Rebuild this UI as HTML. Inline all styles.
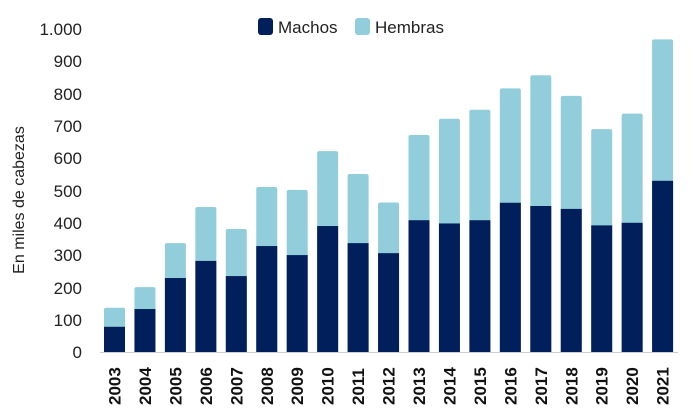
<!DOCTYPE html>
<html><head><meta charset="utf-8"><style>
body{margin:0;background:#fff;}
svg{display:block;font-family:"Liberation Sans",sans-serif;}
</style></head><body>
<svg width="700" height="411" viewBox="0 0 700 411">
<g font-size="17" fill="#222" text-anchor="end">
<text x="82" y="35">1.000</text><text x="82" y="67">900</text><text x="82" y="100">800</text><text x="82" y="132">700</text><text x="82" y="164">600</text><text x="82" y="197">500</text><text x="82" y="229">400</text><text x="82" y="261">300</text><text x="82" y="294">200</text><text x="82" y="326">100</text><text x="82" y="358">0</text>
</g>
<text transform="translate(24,200) rotate(-90)" font-size="16" fill="#222" text-anchor="middle">En miles de cabezas</text>
<rect x="258" y="18" width="15" height="17" rx="3" fill="#001f5b"/>
<text x="278" y="33" font-size="17" fill="#222">Machos</text>
<rect x="355" y="18" width="15" height="17" rx="3" fill="#92cddc"/>
<text x="375" y="33" font-size="17" fill="#222">Hembras</text>
<g fill="#92cddc">
<rect x="104" y="307.75" width="21" height="44.25" rx="2"/>
<rect x="134.45" y="287.08" width="21" height="64.92" rx="2"/>
<rect x="164.9" y="243.15" width="21" height="108.85" rx="2"/>
<rect x="195.35" y="206.97" width="21" height="145.03" rx="2"/>
<rect x="225.8" y="228.94" width="21" height="123.06" rx="2"/>
<rect x="256.25" y="186.95" width="21" height="165.05" rx="2"/>
<rect x="286.7" y="189.85" width="21" height="162.15" rx="2"/>
<rect x="317.15" y="151.09" width="21" height="200.91" rx="2"/>
<rect x="347.6" y="174.03" width="21" height="177.97" rx="2"/>
<rect x="378.05" y="202.45" width="21" height="149.55" rx="2"/>
<rect x="408.5" y="134.94" width="21" height="217.06" rx="2"/>
<rect x="438.95" y="118.79" width="21" height="233.21" rx="2"/>
<rect x="469.4" y="109.75" width="21" height="242.25" rx="2"/>
<rect x="499.85" y="88.43" width="21" height="263.57" rx="2"/>
<rect x="530.3" y="75.19" width="21" height="276.81" rx="2"/>
<rect x="560.75" y="95.86" width="21" height="256.14" rx="2"/>
<rect x="591.2" y="129.13" width="21" height="222.87" rx="2"/>
<rect x="621.65" y="113.63" width="21" height="238.37" rx="2"/>
<rect x="652.1" y="39.34" width="21" height="312.66" rx="2"/>
</g>
<g fill="#001f5b">
<rect x="104" y="326.81" width="21" height="25.19"/>
<rect x="134.45" y="309.04" width="21" height="42.96"/>
<rect x="164.9" y="278.03" width="21" height="73.97"/>
<rect x="195.35" y="260.91" width="21" height="91.09"/>
<rect x="225.8" y="276.09" width="21" height="75.91"/>
<rect x="256.25" y="246.06" width="21" height="105.94"/>
<rect x="286.7" y="255.1" width="21" height="96.9"/>
<rect x="317.15" y="226.03" width="21" height="125.97"/>
<rect x="347.6" y="243.15" width="21" height="108.85"/>
<rect x="378.05" y="253.16" width="21" height="98.84"/>
<rect x="408.5" y="220.22" width="21" height="131.78"/>
<rect x="438.95" y="223.45" width="21" height="128.55"/>
<rect x="469.4" y="220.22" width="21" height="131.78"/>
<rect x="499.85" y="202.77" width="21" height="149.23"/>
<rect x="530.3" y="206" width="21" height="146"/>
<rect x="560.75" y="208.91" width="21" height="143.09"/>
<rect x="591.2" y="225.38" width="21" height="126.62"/>
<rect x="621.65" y="222.8" width="21" height="129.2"/>
<rect x="652.1" y="180.81" width="21" height="171.19"/>
</g>
<line x1="100" y1="352.5" x2="678" y2="352.5" stroke="#ccc" stroke-width="1"/>
<g font-size="17" font-weight="bold" fill="#111">
<text transform="translate(120.5,405) rotate(-90)">2003</text>
<text transform="translate(150.95,405) rotate(-90)">2004</text>
<text transform="translate(181.4,405) rotate(-90)">2005</text>
<text transform="translate(211.85,405) rotate(-90)">2006</text>
<text transform="translate(242.3,405) rotate(-90)">2007</text>
<text transform="translate(272.75,405) rotate(-90)">2008</text>
<text transform="translate(303.2,405) rotate(-90)">2009</text>
<text transform="translate(333.65,405) rotate(-90)">2010</text>
<text transform="translate(364.1,405) rotate(-90)">2011</text>
<text transform="translate(394.55,405) rotate(-90)">2012</text>
<text transform="translate(425,405) rotate(-90)">2013</text>
<text transform="translate(455.45,405) rotate(-90)">2014</text>
<text transform="translate(485.9,405) rotate(-90)">2015</text>
<text transform="translate(516.35,405) rotate(-90)">2016</text>
<text transform="translate(546.8,405) rotate(-90)">2017</text>
<text transform="translate(577.25,405) rotate(-90)">2018</text>
<text transform="translate(607.7,405) rotate(-90)">2019</text>
<text transform="translate(638.15,405) rotate(-90)">2020</text>
<text transform="translate(668.6,405) rotate(-90)">2021</text>
</g>
</svg>
</body></html>
